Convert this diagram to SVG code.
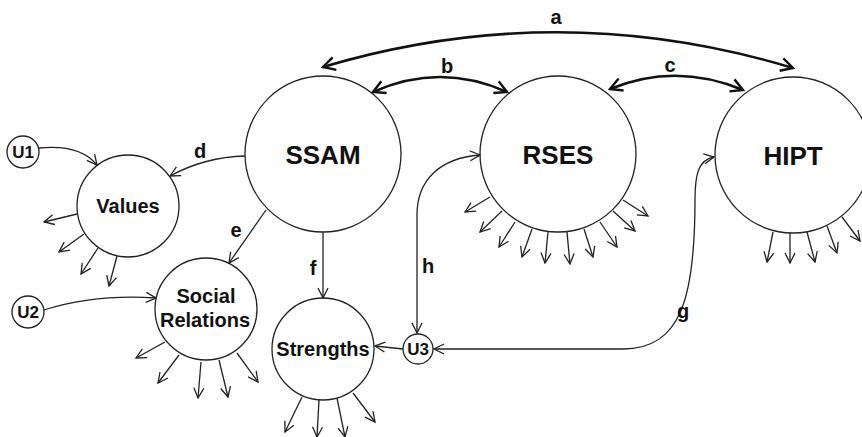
<svg xmlns="http://www.w3.org/2000/svg" width="862" height="437" viewBox="0 0 862 437">
<style>
.n{fill:#fff;stroke:#222;stroke-width:1.3}
.t{font-family:"Liberation Sans",Arial,sans-serif;font-weight:bold;fill:#111;text-anchor:middle}
.big{font-size:26px}
.mid{font-size:20px}
.sm{font-size:17px}
.lb{font-family:"Liberation Sans",Arial,sans-serif;font-weight:bold;fill:#111;text-anchor:middle;font-size:20px}
.c{fill:none;stroke:#222;stroke-width:1.3;marker-end:url(#ah)}
.cc{fill:none;stroke:#222;stroke-width:1.3;marker-start:url(#ah);marker-end:url(#ah)}
.k{fill:none;stroke:#111;stroke-width:2.6;marker-start:url(#ak);marker-end:url(#ak)}
</style>
<defs>
<marker id="ah" viewBox="0 0 12 12" refX="11" refY="6" markerWidth="12" markerHeight="12" markerUnits="userSpaceOnUse" orient="auto-start-reverse"><path d="M1,1 L11,6 L1,11" fill="none" stroke="#222" stroke-width="1.3"/></marker>
<marker id="ak" viewBox="0 0 16 16" refX="14" refY="8" markerWidth="16" markerHeight="16" markerUnits="userSpaceOnUse" orient="auto-start-reverse"><path d="M2,1.5 L14,8 L2,14.5" fill="none" stroke="#111" stroke-width="2.4"/></marker>
</defs>
<rect width="862" height="437" fill="#fff"/>
<g id="SSAM"><circle class="n" cx="323" cy="154" r="78"/><text class="t big" x="323" y="164">SSAM</text></g>
<g id="RSES"><circle class="n" cx="558" cy="154" r="78"/><text class="t big" x="558" y="164">RSES</text></g>
<g id="HIPT"><circle class="n" cx="793" cy="155" r="78"/><text class="t big" x="793" y="165">HIPT</text></g>
<g id="Values"><circle class="n" cx="128" cy="206" r="51"/><text class="t mid" x="128" y="213">Values</text></g>
<g id="SocialRelations"><circle class="n" cx="206" cy="309" r="51"/><text class="t mid" x="206" y="303">Social</text><text class="t mid" x="205" y="327">Relations</text></g>
<g id="Strengths"><circle class="n" cx="323" cy="349" r="51"/><text class="t mid" x="323" y="356">Strengths</text></g>
<g id="U1"><circle class="n" cx="23" cy="152" r="16"/><text class="t sm" x="23" y="158">U1</text></g>
<g id="U2"><circle class="n" cx="28" cy="312" r="16"/><text class="t sm" x="28" y="318">U2</text></g>
<g id="U3"><circle class="n" cx="418" cy="349" r="15"/><text class="t sm" x="418" y="355">U3</text></g>
<g id="connectors">
<path class="k" d="M323,67 Q558,-3 793,68"/>
<path class="k" d="M373,92 Q440,62 507,92"/>
<path class="k" d="M610,89 Q676,62 743,90"/>
<path class="c" d="M245,156 Q205,157 170,176"/>
<path class="c" d="M39,148 Q80,144 97,165"/>
<path class="c" d="M44,310 Q95,294 156,298"/>
<path class="c" d="M266,210 L229,263"/>
<path class="c" d="M323,232 L323,298"/>
<path class="c" d="M403,349 L375,346"/>
<path class="cc" d="M480,155 C440,158 417,180 417,215 L417,333"/>
<path class="cc" d="M714,157 C698,160 695,175 695,200 C695,300 680,349 623,349 L434,349"/>
<g id="errors">
<path class="c" d="M77,214 L44,222"/>
<path class="c" d="M84,234 L59,252"/>
<path class="c" d="M98,248 L81,274"/>
<path class="c" d="M117,256 L109,286"/>
<path class="c" d="M165,342 L136,358"/>
<path class="c" d="M179,355 L158,383"/>
<path class="c" d="M201,362 L198,398"/>
<path class="c" d="M219,360 L228,397"/>
<path class="c" d="M237,353 L258,382"/>
<path class="c" d="M302,397 L285,432"/>
<path class="c" d="M319,400 L317,437"/>
<path class="c" d="M337,398 L345,437"/>
<path class="c" d="M353,393 L375,422"/>
<path class="c" d="M490,197 L465,212"/>
<path class="c" d="M502,211 L480,232"/>
<path class="c" d="M515,222 L499,247"/>
<path class="c" d="M532,229 L522,257"/>
<path class="c" d="M548,232 L545,263"/>
<path class="c" d="M567,232 L570,264"/>
<path class="c" d="M584,229 L593,257"/>
<path class="c" d="M600,222 L617,247"/>
<path class="c" d="M613,211 L635,231"/>
<path class="c" d="M623,200 L648,216"/>
<path class="c" d="M773,232 L767,262"/>
<path class="c" d="M790,233 L790,263"/>
<path class="c" d="M807,232 L815,262"/>
<path class="c" d="M827,226 L837,253"/>
<path class="c" d="M842,217 L860,241"/>
</g>
</g>
<g id="labels">
<text class="lb" x="556" y="24">a</text>
<text class="lb" x="447" y="73">b</text>
<text class="lb" x="670" y="72">c</text>
<text class="lb" x="200" y="158">d</text>
<text class="lb" x="236" y="237">e</text>
<text class="lb" x="313" y="275">f</text>
<text class="lb" x="428" y="273">h</text>
<text class="lb" x="683" y="318">g</text>
</g>
</svg>
